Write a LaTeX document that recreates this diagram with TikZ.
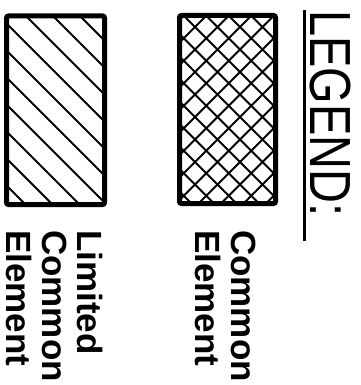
\documentclass[tikz,border=0pt]{standalone}
\usepackage{fontspec}
\usepackage{graphicx}
\setmainfont{Liberation Sans}
\begin{document}
\begin{tikzpicture}[x=1pt,y=-1pt,
  frame/.style={draw, line width=5pt, rounded corners=2pt, inner sep=0pt, outer sep=0pt},
  hatchline/.style={line width=1.8pt},
  crossline/.style={line width=2pt},
  lbl/.style={font=\fontsize{35}{36}\selectfont\bfseries, rotate=-90, anchor=base west, inner sep=0pt},
]
\useasboundingbox (0,0) rectangle (360,385);
% limited common element hatch
\begin{scope}
  \clip (6.5,16) rectangle (104.5,204.5);
  \foreach \k in {-7,...,4} \draw[hatchline] ({-17+27*\k},0) -- ({-17+27*\k+250},250);
\end{scope}
% common element cross hatch
\begin{scope}
  \clip (179.5,15.5) rectangle (275.5,203.5);
  \foreach \k in {-9,...,4} \draw[crossline] ({168+22.5*\k},0) -- ({168+22.5*\k+250},250);
  \foreach \m in {-2,...,12} \draw[crossline] ({222+22.5*\m},0) -- ({222+22.5*\m-250},250);
\end{scope}
% frames
\node[frame, minimum width=98pt, minimum height=188.5pt] (lce) at (55.5,110.25) {};
\node[frame, minimum width=96pt, minimum height=188pt] (ce) at (227.5,109.5) {};
% labels
\node[lbl] (t1) at (77,230) {Limited};
\node[lbl] (t2) at (42,230) {Common};
\node[lbl] (t3) at (6,230) {Element};
\node[lbl] (t4) at (231,230) {Common};
\node[lbl] (t5) at (195,230) {Element};
% legend title
\node[rotate=-90, anchor=base west, inner sep=0pt, font=\fontsize{58}{60}\selectfont] (leg) at (310,10) {\scalebox{0.81}[1]{LEGEND:}};
\coordinate (u1) at (304,10);
\coordinate (u2) at (304,241);
\draw[line width=3pt] (u1) -- (u2);
\end{tikzpicture}
\end{document}
